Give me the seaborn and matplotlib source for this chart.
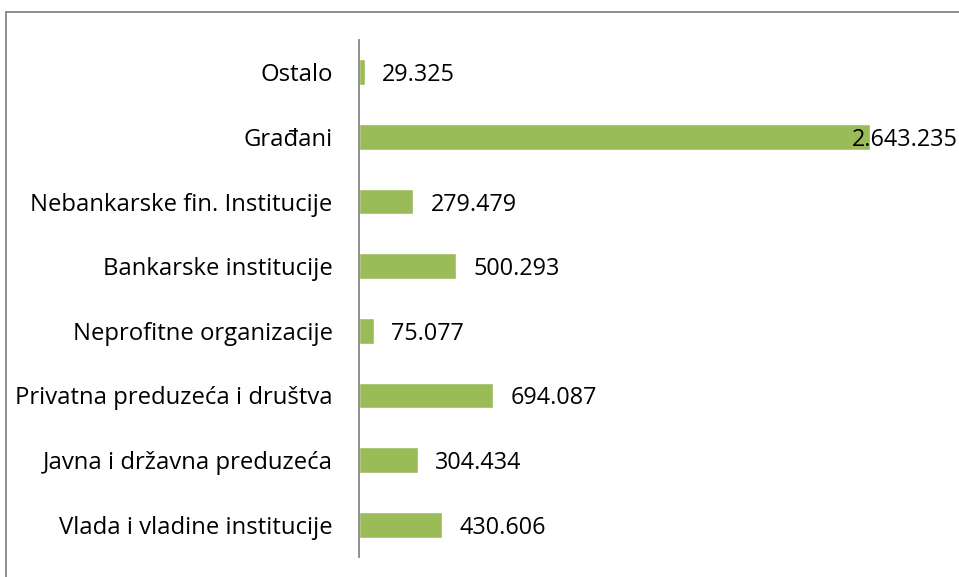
import matplotlib
matplotlib.use("Agg")
import matplotlib.pyplot as plt
from matplotlib.lines import Line2D
import seaborn as sns
import pandas as pd

categories = [
    "Ostalo",
    "Građani",
    "Nebankarske fin. Institucije",
    "Bankarske institucije",
    "Neprofitne organizacije",
    "Privatna preduzeća i društva",
    "Javna i državna preduzeća",
    "Vlada i vladine institucije",
]
values = [29325, 2643235, 279479, 500293, 75077, 694087, 304434, 430606]
value_labels = ["29.325", "2.643.235", "279.479", "500.293", "75.077",
                "694.087", "304.434", "430.606"]

df = pd.DataFrame({"kategorija": categories, "iznos": values})

sns.set_theme(style="white")
plt.rcParams["font.family"] = ["Open Sans", "DejaVu Sans"]

FS_CAT = 17.2
FS_VAL = 16.8
W, H = 959, 577
fig = plt.figure(figsize=(W / 100, H / 100), dpi=100)
ax = fig.add_axes([359 / W, 1 - 557 / H, (939 - 359) / W, (557 - 40) / H])

sns.barplot(data=df, y="kategorija", x="iznos", orient="h", color="#9BBB59",
            saturation=1, width=0.4, ax=ax)

ax.set_xlim(0, 3000000)
ax.set_ylim(len(categories) - 0.5, -0.5)
ax.set_xlabel("")
ax.set_ylabel("")
ax.set_xticks([])
for s in ["top", "right", "bottom"]:
    ax.spines[s].set_visible(False)
ax.spines["left"].set_color("#868686")
ax.spines["left"].set_linewidth(1.3)
ax.tick_params(axis="y", length=0, pad=19, labelsize=FS_CAT, labelcolor="black")

xmax = ax.get_xlim()[1]
for i, (v, lab) in enumerate(zip(values, value_labels)):
    dx = -13 if v > 0.8 * xmax else 12.5
    ax.annotate(lab, xy=(v, i), xytext=(dx, 0), textcoords="offset points",
                ha="left", va="center_baseline", fontsize=FS_VAL, color="black")

# outer frame (top and left edges)
fig.add_artist(Line2D([5.5 / W, 1], [1 - 11.5 / H, 1 - 11.5 / H],
                      transform=fig.transFigure, color="#868686", lw=1.3))
fig.add_artist(Line2D([5.5 / W, 5.5 / W], [0, 1 - 11.5 / H],
                      transform=fig.transFigure, color="#868686", lw=1.3))

fig.savefig("out.png", dpi=100)
